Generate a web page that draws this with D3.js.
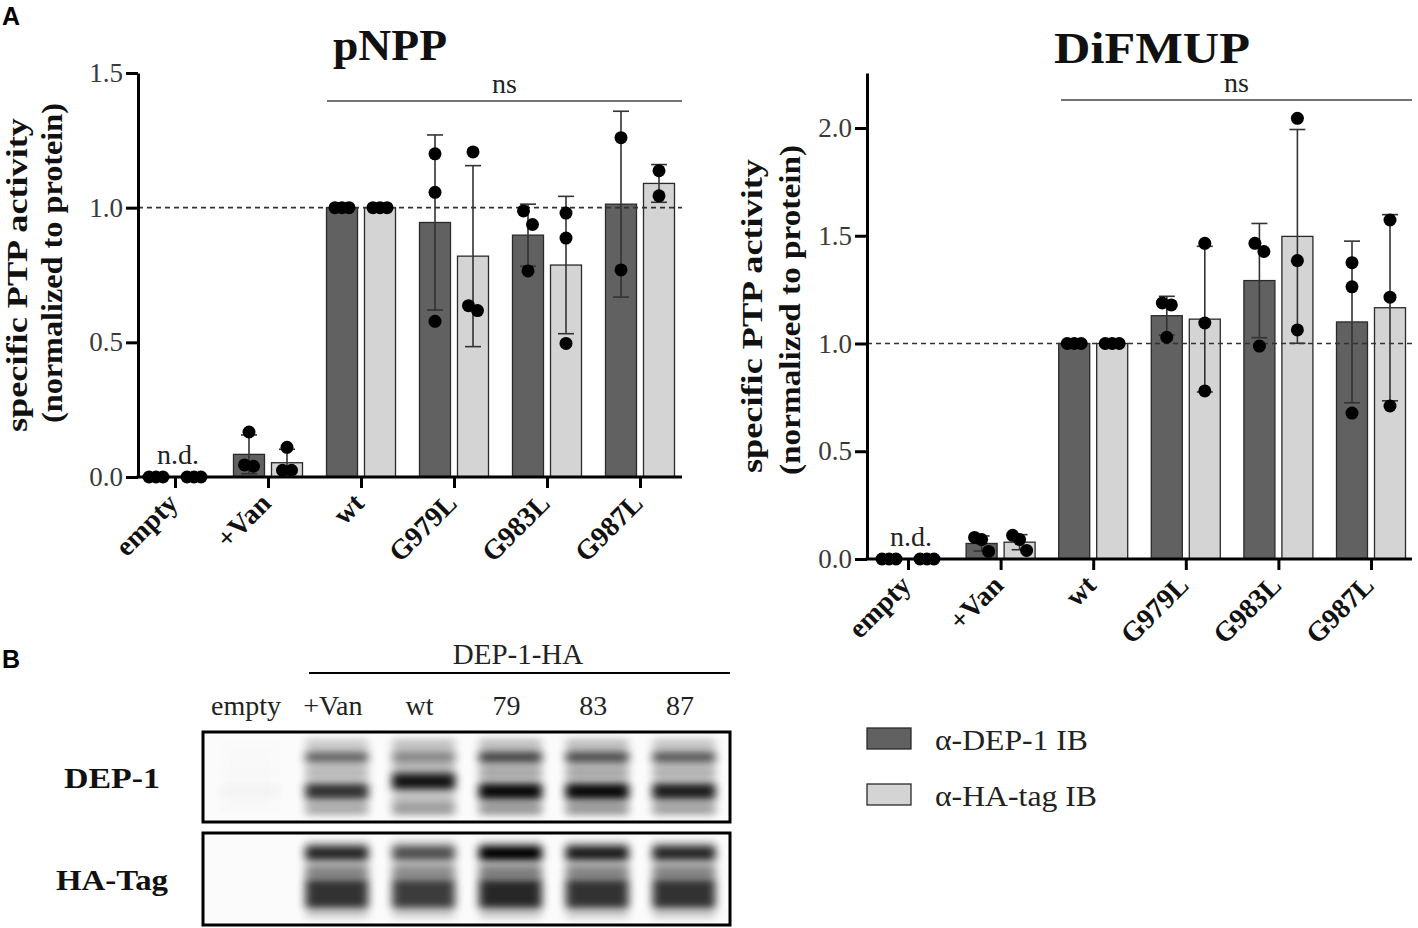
<!DOCTYPE html>
<html>
<head>
<meta charset="utf-8">
<script src="https://cdn.jsdelivr.net/npm/d3@7"></script>
<style>
  body { margin: 0; background: #fff; }
  svg text { font-family: "Liberation Serif", "Times New Roman", serif; }
</style>
</head>
<body>
<svg id="fig" width="1418" height="928"></svg>
<script>
// Panel A: specific PTP activity, two substrates. Panel B: western blot.

const groups = ["empty", "+Van", "wt", "G979L", "G983L", "G987L"];
const series = ["α-DEP-1 IB", "α-HA-tag IB"];

// pNPP
const pnppDepMean = [0, 0.084, 1.0, 0.945, 0.898, 1.013];
const pnppDepSd = [0, 0.072, 0, 0.325, 0.115, 0.345];
const pnppDepPts = [[0, 0, 0], [0.167, 0.045, 0.04], [1, 1, 1], [1.2, 1.057, 0.578], [0.988, 0.9375, 0.765], [1.26, 0.769]];
const pnppHaMean = [0, 0.053, 1.0, 0.82, 0.787, 1.09];
const pnppHaSd = [0, 0.05, 0, 0.336, 0.255, 0.07];
const pnppHaPts = [[0, 0, 0], [0.11, 0.025, 0.025], [1, 1, 1], [1.207, 0.618, 0.636], [0.98, 0.887, 0.496], [1.137, 1.044]];

// DiFMUP
const difDepMean = [0, 0.072, 1.0, 1.129, 1.292, 1.10];
const difDepSd = [0, 0.035, 0, 0.09, 0.265, 0.375];
const difDepPts = [[0, 0, 0], [0.10, 0.09, 0.035], [1, 1, 1], [1.188, 1.179, 1.029], [1.465, 1.427, 0.988], [1.375, 1.263, 0.677]];
const difHaMean = [0, 0.078, 1.0, 1.113, 1.497, 1.166];
const difHaSd = [0, 0.035, 0, 0.338, 0.496, 0.432];
const difHaPts = [[0, 0, 0], [0.11, 0.09, 0.04], [1, 1, 1], [1.465, 1.095, 0.78], [2.045, 1.385, 1.063], [1.573, 1.215, 0.71]];

const pnppTicks = [0, 0.5, 1.0, 1.5];
const difTicks = [0, 0.5, 1.0, 1.5, 2.0];

// blot lanes and band darkness (0 = none, 1 = black)
const lanes = ["empty", "+Van", "wt", "79", "83", "87"];
const dep1Upper = [0, 0.5, 0.3, 0.65, 0.6, 0.55];
const dep1Lower = [0.02, 0.75, 0.9, 0.95, 0.95, 0.85];
const dep1LowerMig = [0.66, 0.66, 0.55, 0.66, 0.66, 0.66];   // relative migration in the box
const ha1Upper = [0, 0.8, 0.6, 1.0, 0.85, 0.8];
const ha1Lower = [0, 0.75, 0.7, 0.8, 0.75, 0.75];

const svg = d3.select("#fig");
const serif = '"Liberation Serif", "Times New Roman", serif';
const darkFill = "#616161", lightFill = "#d4d4d4";

function drawChart(o) {
  const g = svg.append("g");
  const x = d3.scalePoint().domain(groups).range(o.xr);
  const y = d3.scaleLinear().domain([0, o.yMax]).range([o.yBase, o.yTop]);
  const sub = d3.scaleBand().domain([0, 1]).range([-34.5, 34.5]).paddingInner(0.184);
  const r = 6.5;

  const means = [o.depMean, o.haMean], sds = [o.depSd, o.haSd], pts = [o.depPts, o.haPts];

  // bars
  [0, 1].forEach(s => {
    g.append("g").selectAll("rect")
      .data(groups.filter((d, i) => means[s][i] > 0))
      .join("rect")
      .attr("x", d => x(d) + sub(s))
      .attr("y", d => y(means[s][groups.indexOf(d)]))
      .attr("width", sub.bandwidth())
      .attr("height", d => y(0) - y(means[s][groups.indexOf(d)]))
      .attr("fill", s === 0 ? darkFill : lightFill)
      .attr("stroke", "#2a2a2a")
      .attr("stroke-width", 1.3);
  });

  // reference line at 1.0
  g.append("line")
    .attr("x1", o.x0).attr("x2", o.x1)
    .attr("y1", y(1)).attr("y2", y(1))
    .attr("stroke", "#333").attr("stroke-width", 1.6)
    .attr("stroke-dasharray", "5,4");

  // error bars (mean ± SD)
  [0, 1].forEach(s => {
    groups.forEach((grp, i) => {
      const sd = sds[s][i];
      if (!(sd > 0)) return;
      const cx = x(grp) + sub(s) + sub.bandwidth() / 2;
      const yHi = y(means[s][i] + sd), yLo = y(Math.max(0, means[s][i] - sd));
      const eb = g.append("g").attr("stroke", "#333").attr("stroke-width", 1.6);
      eb.append("line").attr("x1", cx).attr("x2", cx).attr("y1", yHi).attr("y2", yLo);
      eb.append("line").attr("x1", cx - 8).attr("x2", cx + 8).attr("y1", yHi).attr("y2", yHi);
      eb.append("line").attr("x1", cx - 8).attr("x2", cx + 8).attr("y1", yLo).attr("y2", yLo);
    });
  });

  // replicate dots, spread sideways when they touch
  [0, 1].forEach(s => {
    groups.forEach((grp, i) => {
      const cx = x(grp) + sub(s) + sub.bandwidth() / 2;
      const vals = pts[s][i].slice().sort((a, b) => b - a);
      const clusters = [];
      vals.forEach(v => {
        const last = clusters[clusters.length - 1];
        if (last && Math.abs(y(v) - y(last[last.length - 1])) < 14) last.push(v);
        else clusters.push([v]);
      });
      clusters.forEach(c => {
        const step = c.length >= 3 ? 7 : 9;
        c.forEach((v, k) => {
          g.append("circle")
            .attr("cx", cx + (k - (c.length - 1) / 2) * step)
            .attr("cy", y(v))
            .attr("r", r)
            .attr("fill", "#000");
        });
      });
    });
  });

  // y axis
  const ya = g.append("g").attr("transform", `translate(${o.x0},0)`)
    .call(d3.axisLeft(y).tickValues(o.ticks).tickFormat(d3.format(".1f")).tickSize(12).tickSizeOuter(0).tickPadding(3));
  ya.select(".domain").attr("stroke", "#000").attr("stroke-width", 3);
  ya.selectAll(".tick line").attr("stroke", "#000").attr("stroke-width", 3);
  ya.selectAll(".tick text").attr("font-size", 27).attr("fill", "#3a3a3a").style("font-family", serif);

  // x axis
  const xa = g.append("g").attr("transform", `translate(0,${o.yBase})`)
    .call(d3.axisBottom(x).tickSize(11).tickSizeOuter(0));
  xa.select(".domain").remove();
  xa.append("line").attr("x1", o.x0 - 1.5).attr("x2", o.x1).attr("stroke", "#000").attr("stroke-width", 3);
  xa.selectAll(".tick line").attr("stroke", "#000").attr("stroke-width", 3);
  xa.selectAll(".tick text")
    .attr("x", 0).attr("y", 0).attr("dy", 0)
    .attr("text-anchor", "end")
    .attr("transform", "translate(4,28) rotate(-45)")
    .attr("font-size", 28).attr("font-weight", "bold").attr("fill", "#111")
    .style("font-family", serif);

  // n.d.
  g.append("text").attr("x", x("empty") + 3).attr("y", y(0) - 13)
    .attr("text-anchor", "middle").attr("font-size", 28).attr("fill", "#222").text("n.d.");

  // ns bracket
  g.append("line").attr("x1", o.nsX0).attr("x2", o.x1).attr("y1", o.nsY).attr("y2", o.nsY)
    .attr("stroke", "#444").attr("stroke-width", 1.6);
  g.append("text").attr("x", (o.nsX0 + o.x1) / 2).attr("y", o.nsY - 8)
    .attr("text-anchor", "middle").attr("font-size", 28).attr("fill", "#222").text("ns");

  // title
  g.append("text").attr("x", o.titleX).attr("y", o.titleY)
    .attr("text-anchor", "middle").attr("font-size", 44).attr("font-weight", "bold")
    .attr("textLength", o.titleLen).attr("lengthAdjust", "spacingAndGlyphs")
    .attr("fill", "#111").text(o.title);

  // y label, two lines
  const cy = (o.yBase + o.yTop) / 2;
  [["specific PTP activity", o.labX[0], o.labLen[0], 0], ["(normalized to protein)", o.labX[1], o.labLen[1], o.labShift]]
    .forEach(([t, lx, len, dy]) => {
      g.append("text")
        .attr("transform", `translate(${lx},${cy + dy}) rotate(-90)`)
        .attr("text-anchor", "middle").attr("font-size", 29).attr("font-weight", "bold")
        .attr("textLength", len).attr("lengthAdjust", "spacingAndGlyphs")
        .attr("fill", "#111").text(t);
    });
}

drawChart({
  x0: 138, x1: 682, xr: [175, 640], yBase: 477, yTop: 73, yMax: 1.5, ticks: pnppTicks,
  depMean: pnppDepMean, depSd: pnppDepSd, depPts: pnppDepPts,
  haMean: pnppHaMean, haSd: pnppHaSd, haPts: pnppHaPts,
  nsX0: 327, nsY: 101, title: "pNPP", titleX: 390, titleY: 60, titleLen: 114,
  labX: [27, 62], labLen: [314, 320], labShift: -12
});

drawChart({
  x0: 867, x1: 1412, xr: [908, 1371], yBase: 559, yTop: 73, yMax: 2.2552, ticks: difTicks,
  depMean: difDepMean, depSd: difDepSd, depPts: difDepPts,
  haMean: difHaMean, haSd: difHaSd, haPts: difHaPts,
  nsX0: 1061, nsY: 100, title: "DiFMUP", titleX: 1152, titleY: 63, titleLen: 196,
  labX: [762, 800], labLen: [314, 330], labShift: -6
});

// panel letters
svg.append("text").attr("x", 2).attr("y", 25).attr("font-size", 25).attr("font-weight", "bold")
  .style("font-family", '"Liberation Sans", Arial, sans-serif').text("A");
svg.append("text").attr("x", 2).attr("y", 668).attr("font-size", 25).attr("font-weight", "bold")
  .style("font-family", '"Liberation Sans", Arial, sans-serif').text("B");

// legend
const leg = svg.append("g");
series.forEach((s, i) => {
  leg.append("rect").attr("x", 867).attr("y", 728 + i * 56).attr("width", 44).attr("height", 21)
    .attr("fill", i === 0 ? darkFill : lightFill).attr("stroke", "#2a2a2a").attr("stroke-width", 1.3);
  leg.append("text").attr("x", 935).attr("y", 750 + i * 56).attr("font-size", 30).attr("fill", "#222")
    .attr("textLength", i === 0 ? 153 : 162).attr("lengthAdjust", "spacingAndGlyphs")
    .text(s);
});

// ---- blot ----
const defs = svg.append("defs");
defs.append("filter").attr("id", "blur").attr("x", "-50%").attr("y", "-100%").attr("width", "200%").attr("height", "300%")
  .append("feGaussianBlur").attr("stdDeviation", "5 3.5");
const boxes = [{ y: 732, h: 90, name: "DEP-1" }, { y: 833, h: 92, name: "HA-Tag" }];
boxes.forEach((b, i) => {
  defs.append("clipPath").attr("id", "clip" + i)
    .append("rect").attr("x", 203).attr("y", b.y).attr("width", 527).attr("height", b.h);
});
const lx = d3.scalePoint().domain(lanes).range([250, 684]);

function bandRow(gr, vals, mig, h, box) {
  gr.selectAll(null).data(lanes).join("rect")
    .attr("x", d => lx(d) - 31)
    .attr("width", 62)
    .attr("y", (d, i) => box.y + (Array.isArray(mig) ? mig[i] : mig) * box.h - h / 2)
    .attr("height", h)
    .attr("fill", "#000")
    .attr("opacity", (d, i) => vals[i])
    .attr("filter", "url(#blur)");
}

boxes.forEach((b, i) => {
  svg.append("rect").attr("x", 203).attr("y", b.y).attr("width", 527).attr("height", b.h).attr("fill", "#fbfbfb");
  const gr = svg.append("g").attr("clip-path", `url(#clip${i})`);
  // faint smear in loaded lanes
  bandRow(gr, (i === 0 ? dep1Lower : ha1Lower).map(v => v * 0.25), 0.5, b.h * 0.85, b);
  if (i === 0) {
    bandRow(gr, dep1Upper, 0.28, 10, b);
    bandRow(gr, dep1Lower.map(v => v * 0.12), 0.45, 10, b);
    bandRow(gr, dep1Lower, dep1LowerMig, 15, b);
    bandRow(gr, dep1Lower.map(v => v * 0.2), 0.85, 12, b);
  } else {
    bandRow(gr, ha1Upper, 0.22, 14, b);
    bandRow(gr, ha1Lower.map(v => v * 0.45), 0.43, 14, b);
    bandRow(gr, ha1Lower, 0.66, 28, b);
  }
  svg.append("rect").attr("x", 203).attr("y", b.y).attr("width", 527).attr("height", b.h)
    .attr("fill", "none").attr("stroke", "#000").attr("stroke-width", 3);
  svg.append("text").attr("x", 112).attr("y", b.y + b.h / 2 + 11)
    .attr("text-anchor", "middle").attr("font-size", 30).attr("font-weight", "bold").attr("fill", "#111")
    .attr("textLength", i === 0 ? 96 : 112).attr("lengthAdjust", "spacingAndGlyphs")
    .text(b.name);
});

// lane labels
svg.append("g").selectAll("text").data(lanes).join("text")
  .attr("x", d => lx(d) - 4).attr("y", 715)
  .attr("text-anchor", "middle").attr("font-size", 28).attr("fill", "#222")
  .text(d => d);
svg.append("line").attr("x1", 309).attr("x2", 730).attr("y1", 673).attr("y2", 673)
  .attr("stroke", "#000").attr("stroke-width", 2);
svg.append("text").attr("x", 518).attr("y", 664).attr("text-anchor", "middle")
  .attr("font-size", 29).attr("fill", "#222").text("DEP-1-HA");
</script>
</body>
</html>
